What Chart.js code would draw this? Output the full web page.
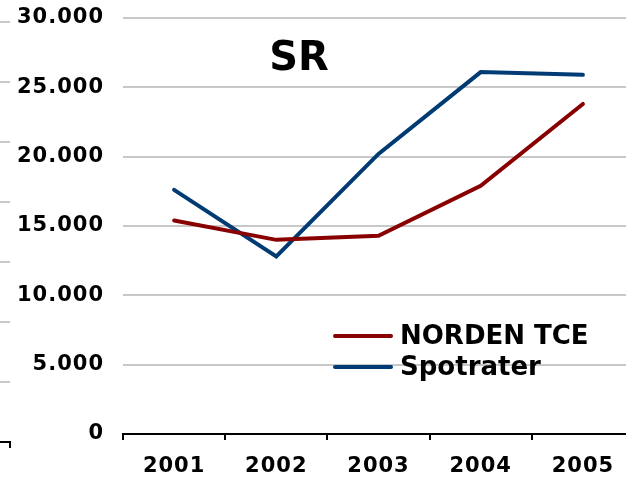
<!DOCTYPE html>
<html>
<head>
<meta charset="utf-8">
<script src="https://cdn.jsdelivr.net/npm/chart.js@4.4.1/dist/chart.umd.min.js"></script>
<style>
  body { margin: 0; background: #fff; overflow: hidden; }
  #wrap { position: relative; width: 640px; height: 477px; }
  #title {
    position: absolute; left: 249px; top: 32px; width: 100px;
    text-align: center; font: bold 40px "DejaVu Sans"; line-height: 48px; color: #000;
  }
  #legend { position: absolute; left: 333px; top: 320px; }
  .row { position: relative; height: 31px; }
  .swatch { position: absolute; left: 0; top: 14px; width: 60px; height: 4px; border-radius: 2px; }
  .lbl { position: absolute; left: 67px; top: 0; font: bold 26px "DejaVu Sans"; line-height: 31px; color: #000; white-space: nowrap; }
</style>
</head>
<body>
<div id="wrap">
  <canvas id="myChart" width="640" height="477"></canvas>
  <div id="title">SR</div>
  <div id="legend"></div>
</div>
<script>
const years = ['2001', '2002', '2003', '2004', '2005'];
const nordenTce = [15400, 14000, 14300, 17900, 23800];
const spotrater = [17600, 12800, 20200, 26100, 25900];
const yTickLabels = ['0', '5.000', '10.000', '15.000', '20.000', '25.000', '30.000'];

const seriesNames = ['NORDEN TCE', 'Spotrater'];
const seriesColors = ['#880000', '#003B73'];

// legend (html, in the chart area like the original)
const legendDiv = document.getElementById('legend');
seriesNames.forEach((name, i) => {
    const row = document.createElement('div');
    row.className = 'row';
    row.innerHTML = `<span class="swatch" style="background:${seriesColors[i]}"></span><span class="lbl">${name}</span>`;
    legendDiv.appendChild(row);
});

// a bit of extra glyph spacing for the axis labels
const spacing = {
    id: 'spacing',
    beforeDraw(chart) {
        chart.ctx.letterSpacing = '1px';
    }
};

// bits of the neighbouring chart cut off at the left edge
const edgeBits = {
    id: 'edgeBits',
    afterDraw(chart) {
        const c = chart.ctx;
        c.save();
        c.letterSpacing = '0px';
        c.lineWidth = 2;
        c.strokeStyle = '#c8c8c8';
        for (let i = 0; i < 7; i++) {
            const y = 22 + i * 60;
            c.beginPath();
            c.moveTo(0, y);
            c.lineTo(10, y);
            c.stroke();
        }
        c.strokeStyle = '#000';
        c.beginPath();
        c.moveTo(0, 442);
        c.lineTo(10, 442);
        c.lineTo(10, 448);
        c.stroke();
        c.restore();
    }
};

const ctx = document.getElementById('myChart');

const config = {
    type: 'line',
    data: {
        labels: years,
        datasets: [{
            label: seriesNames[0],
            data: nordenTce,
            borderColor: seriesColors[0],
            backgroundColor: seriesColors[0],
            borderWidth: 4,
            pointRadius: 0,
            tension: 0,
            borderCapStyle: 'round'
        }, {
            label: seriesNames[1],
            data: spotrater,
            borderColor: seriesColors[1],
            backgroundColor: seriesColors[1],
            borderWidth: 4,
            pointRadius: 0,
            tension: 0,
            borderCapStyle: 'round'
        }]
    },
    options: {
        responsive: false,
        animation: false,
        layout: { padding: { top: 18, right: 6, left: 0, bottom: 0 } },
        plugins: {
            legend: { display: false },
            title: { display: false },
            tooltip: { enabled: false }
        },
        scales: {
            x: {
                offset: true,
                grid: {
                    display: true,
                    drawOnChartArea: false,
                    drawTicks: true,
                    tickLength: 6,
                    color: '#000',
                    lineWidth: 2,
                    offset: true
                },
                border: { display: true, color: '#000', width: 2 },
                ticks: {
                    color: '#000',
                    font: { family: 'DejaVu Sans', size: 21, weight: 'bold' },
                    padding: 14,
                    maxRotation: 0
                },
                afterFit(scale) {
                    scale.height = 43;
                    scale.paddingLeft = 0;
                    scale.paddingRight = 0;
                }
            },
            y: {
                min: 0,
                max: 30000,
                ticks: {
                    stepSize: 5000,
                    color: '#000',
                    font: { family: 'DejaVu Sans', size: 21, weight: 'bold' },
                    padding: 19,
                    callback: (value, index) => yTickLabels[index]
                },
                grid: { color: '#c8c8c8', lineWidth: 2, drawTicks: false },
                border: { display: false },
                afterFit(scale) {
                    scale.width = 123;
                    scale.paddingTop = 0;
                    scale.paddingBottom = 0;
                }
            }
        }
    },
    plugins: [spacing, edgeBits]
};

const lineChart = new Chart(ctx, config);
</script>
</body>
</html>
